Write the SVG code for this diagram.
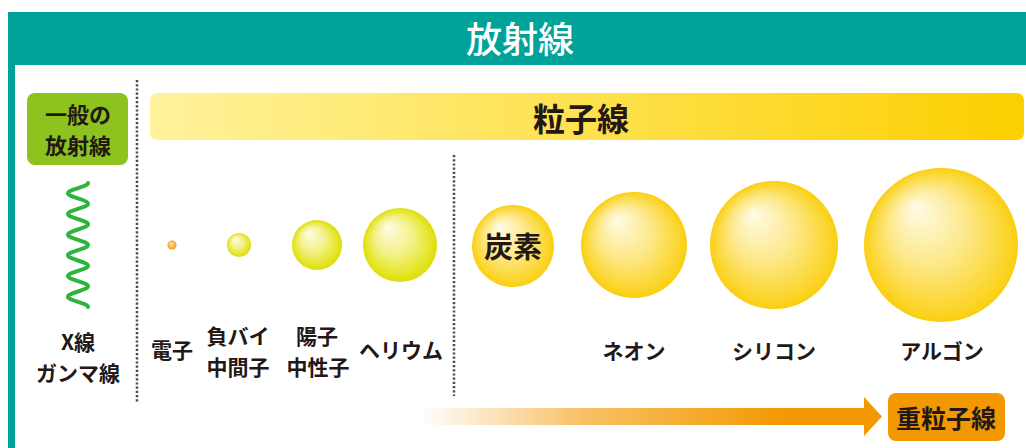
<svg xmlns="http://www.w3.org/2000/svg" width="1026" height="448" viewBox="0 0 1026 448">
<defs>
<style>
.t{font-family:"Noto Sans CJK JP","Noto Sans",sans-serif;font-weight:bold;fill:#231815;text-anchor:middle}
.dot{stroke:#4d4d4d;stroke-width:2.5;stroke-dasharray:2.2 2;fill:none}
</style>
<linearGradient id="barY" x1="0" y1="0" x2="1" y2="0">
<stop offset="0" stop-color="#fff39c"/>
<stop offset="1" stop-color="#fccf00"/>
</linearGradient>
<linearGradient id="barO" x1="0" y1="0" x2="1" y2="0">
<stop offset="0" stop-color="#f39800" stop-opacity="0"/>
<stop offset="0.35" stop-color="#f39800" stop-opacity="0.6"/>
<stop offset="0.8" stop-color="#f39800" stop-opacity="1"/>
<stop offset="1" stop-color="#f39800"/>
</linearGradient>
<radialGradient id="gGold" cx="0.5" cy="0.5" r="0.5" fx="0.33" fy="0.25">
<stop offset="0" stop-color="#fffbe8"/>
<stop offset="0.5" stop-color="#fde88a"/>
<stop offset="0.9" stop-color="#fbd52a"/>
<stop offset="1" stop-color="#f9cf10"/>
</radialGradient>
<radialGradient id="gLime" cx="0.5" cy="0.5" r="0.5" fx="0.33" fy="0.25">
<stop offset="0" stop-color="#fffbe6"/>
<stop offset="0.5" stop-color="#f3f18a"/>
<stop offset="0.9" stop-color="#e3e41e"/>
<stop offset="1" stop-color="#dcdc10"/>
</radialGradient>
<radialGradient id="gOr" cx="0.5" cy="0.5" r="0.5" fx="0.35" fy="0.3">
<stop offset="0" stop-color="#ffe8b0"/>
<stop offset="1" stop-color="#f19a20"/>
</radialGradient>
</defs>
<rect width="1026" height="448" fill="#ffffff"/>
<g id="header">
<rect x="8" y="12" width="1018" height="53" fill="#00a29a"/>
<rect x="8" y="12" width="7" height="436" fill="#00a29a"/>
<text x="520" y="53" font-family="'Noto Sans CJK JP',sans-serif" font-size="36" font-weight="500" fill="#ffffff" text-anchor="middle">放射線</text>
</g>
<g id="dividers">
<line class="dot" x1="137" y1="80" x2="137" y2="402"/>
<line class="dot" x1="454" y1="155" x2="454" y2="396"/>
</g>
<g id="general">
<rect x="27" y="93" width="101" height="72" rx="8" fill="#8dc21f"/>
<text class="t" x="78" y="123" font-size="22">一般の</text>
<text class="t" x="78" y="154" font-size="22">放射線</text>
</g>
<g id="wave">
<path d="M88,183 C88,186.7 68,189.6 68,193.3 S88,199.9 88,203.7 S68,210.3 68,214 S88,220.6 88,224.3 S68,231 68,234.7 S88,241.3 88,245 S68,251.6 68,255.3 S88,262 88,265.7 S68,272.3 68,276 S88,282.6 88,286.3 S68,293 68,296.7 S88,303.3 88,307" fill="none" stroke="#2db43a" stroke-width="4" stroke-linecap="round"/>
<text class="t" x="78" y="350" font-size="21">X線</text>
<text class="t" x="78" y="381" font-size="21">ガンマ線</text>
</g>
<g id="particle-bar">
<rect x="150" y="93" width="874" height="47" rx="7" fill="url(#barY)"/>
<text class="t" x="581" y="131" font-size="32" font-weight="500">粒子線</text>
</g>
<g id="electron">
<circle cx="172" cy="245" r="4.5" fill="url(#gOr)"/>
<text class="t" x="172" y="358" font-size="21">電子</text>
</g>
<g id="meson">
<circle cx="239" cy="245" r="12" fill="url(#gLime)"/>
<text class="t" x="238" y="344" font-size="21">負バイ</text>
<text class="t" x="238" y="375" font-size="21">中間子</text>
</g>
<g id="proton">
<circle cx="317" cy="245" r="25" fill="url(#gLime)"/>
<text class="t" x="317" y="344" font-size="21">陽子</text>
<text class="t" x="318" y="375" font-size="21">中性子</text>
</g>
<g id="helium">
<circle cx="400" cy="245" r="37" fill="url(#gLime)"/>
<text class="t" x="401" y="358" font-size="21">ヘリウム</text>
</g>
<g id="carbon">
<circle cx="513" cy="246" r="41" fill="url(#gGold)"/>
<text class="t" x="513" y="258" font-size="29">炭素</text>
</g>
<g id="neon">
<circle cx="634" cy="245" r="53" fill="url(#gGold)"/>
<text class="t" x="634" y="359" font-size="21">ネオン</text>
</g>
<g id="silicon">
<circle cx="774" cy="245" r="64" fill="url(#gGold)"/>
<text class="t" x="774" y="359" font-size="21">シリコン</text>
</g>
<g id="argon">
<circle cx="941" cy="245" r="77" fill="url(#gGold)"/>
<text class="t" x="942" y="359" font-size="21">アルゴン</text>
</g>
<g id="connectors">
<path d="M420,408 L864,408 L864,397 L882,416.5 L864,436 L864,425 L420,425 Z" fill="url(#barO)"/>
</g>
<g id="heavy">
<rect x="888" y="393" width="117" height="48" rx="8" fill="#f39800"/>
<text class="t" x="946" y="428" font-size="25">重粒子線</text>
</g>
</svg>
